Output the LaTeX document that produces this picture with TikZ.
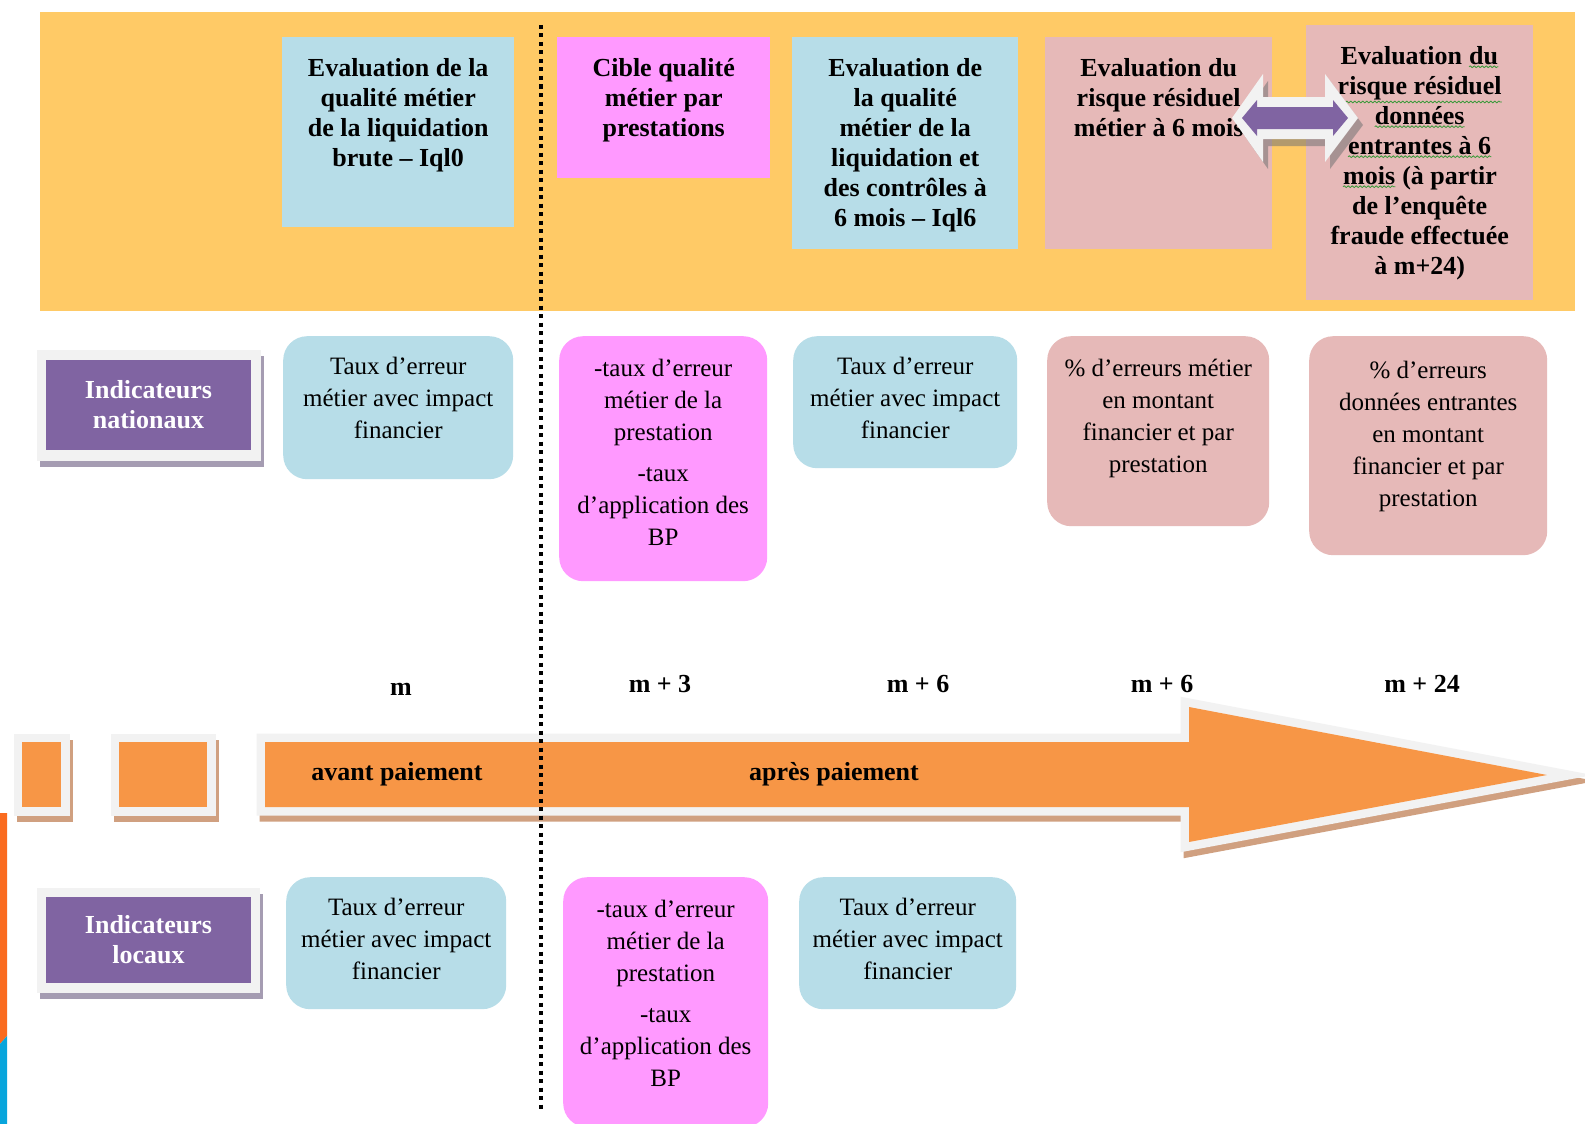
\documentclass[tikz,border=0pt]{standalone}
\usepackage{fontspec}
\setmainfont{Liberation Serif}
\usetikzlibrary{decorations.pathmorphing}
\definecolor{yel}{HTML}{FFCA66}
\definecolor{lblue}{HTML}{B7DDE8}
\definecolor{pinkm}{HTML}{FF99FF}
\definecolor{rose}{HTML}{E6B9B8}
\definecolor{purp}{HTML}{8064A2}
\definecolor{orng}{HTML}{F79646}
\definecolor{frm}{HTML}{F2F2F2}
\definecolor{tanc}{HTML}{D0A080}
\definecolor{pshad}{HTML}{A59CB2}
\definecolor{stripor}{HTML}{FA6B1F}
\definecolor{stripbl}{HTML}{08A5DC}
\definecolor{squigc}{HTML}{3A9A3A}
\newcommand\fsA{\fontsize{26}{30}\selectfont\bfseries}
\newcommand\fsB{\fontsize{25}{32}\selectfont}
\newcommand\fsC{\fontsize{26}{30}\selectfont\bfseries}
\newcommand\squig[1]{\tikz[baseline=(sqw.base)]{\node[inner sep=0pt](sqw){#1};\draw[squigc,line width=0.8pt,decorate,decoration={snake,amplitude=0.9pt,segment length=4pt}]([yshift=-2pt]sqw.south west)--([yshift=-2pt]sqw.south east);}}
\begin{document}
\begin{tikzpicture}[x=1pt,y=-1pt,
  topbox/.style={rectangle,inner sep=0pt,anchor=north west,draw=none},
  rbox/.style={rectangle,rounded corners=24pt,inner sep=0pt,anchor=north west,draw=none},
  ttxt/.style={anchor=north,align=center,inner sep=0pt,font=\fsA},
  rtxt/.style={anchor=north,align=center,inner sep=0pt,font=\fsB},
  lbl/.style={inner sep=0pt,font=\fsC},
  bigarrowpath/.style={insert path={(265,742) -- (1189,742) -- (1189,707) -- (1547,775) -- (1189,842) -- (1189,807) -- (265,807) -- cycle}},
  dblwhite/.style={insert path={(1232,118) -- (1263,74) -- (1263,97) -- (1325,97) -- (1325,74) -- (1358,118) -- (1325,162) -- (1325,139) -- (1263,139) -- (1263,162) -- cycle}},
  dblpurp/.style={insert path={(1242,118) -- (1257,100) -- (1257,107) -- (1333,107) -- (1333,100) -- (1348,118) -- (1333,136) -- (1333,129) -- (1257,129) -- (1257,136) -- cycle}},
  plabel/.style={rectangle,fill=purp,inner sep=0pt,minimum width=205pt,minimum height=90pt,text=white,align=center,font=\fsC}
]
\useasboundingbox (0,0) rectangle (1585,1124);
\fill[white] (0,0) rectangle (1585,1124);

% yellow band
\fill[yel] (40,12) rectangle (1575,311);

% top boxes
\node[topbox,fill=lblue,minimum width=232pt,minimum height=190pt] (t1) at (282,37) {};
\node[topbox,fill=pinkm,minimum width=213pt,minimum height=141pt] (t2) at (557,37) {};
\node[topbox,fill=lblue,minimum width=226pt,minimum height=212pt] (t3) at (792,37) {};
\node[topbox,fill=rose,minimum width=227pt,minimum height=212pt] (t4) at (1045,37) {};
\node[topbox,fill=rose,minimum width=227pt,minimum height=275pt] (t5) at (1306,25) {};

\node[ttxt] (t1x) at ([yshift=-21pt]t1.north) {Evaluation de la\\qualité métier\\de la liquidation\\brute – Iql0};
\node[ttxt] (t2x) at ([yshift=-21pt]t2.north) {Cible qualité\\métier par\\prestations};
\node[ttxt] (t3x) at ([yshift=-21pt]t3.north) {Evaluation de\\la qualité\\métier de la\\liquidation et\\des contrôles à\\6 mois – Iql6};
\node[ttxt] (t4x) at ([yshift=-21pt]t4.north) {Evaluation du\\risque résiduel\\métier à 6 mois};
\node[ttxt] (t5x) at ([yshift=-21pt]t5.north) {Evaluation \squig{du}\\\squig{risque résiduel}\\\squig{données}\\\squig{entrantes à 6}\\\squig{mois} (à partir\\de l’enquête\\fraude effectuée\\à m+24)};

% double arrow
\begin{scope}[shift={(5,7)}]
\path[fill=black!55,opacity=0.55,dblwhite];
\end{scope}
\path[fill=frm,dblwhite];
\path[fill=purp,dblpurp];

% national indicators row
\fill[pshad] (40,356) rectangle (264,467);
\fill[frm] (37,350) rectangle (261,461);
\node[plabel] (nat) at (148.5,405) {Indicateurs\\nationaux};

\node[rbox,fill=lblue,minimum width=230pt,minimum height=143pt] (n1) at (283,336) {};
\node[rbox,fill=pinkm,minimum width=208pt,minimum height=245pt] (n2) at (559,336) {};
\node[rbox,fill=lblue,minimum width=224pt,minimum height=132pt] (n3) at (793,336) {};
\node[rbox,fill=rose,minimum width=222pt,minimum height=190pt] (n4) at (1047,336) {};
\node[rbox,fill=rose,minimum width=238pt,minimum height=219pt] (n5) at (1309,336) {};

\node[rtxt] (n1x) at ([yshift=-21pt]n1.north) {Taux d’erreur\\métier avec impact\\financier};
\node[rtxt] (n2x) at ([yshift=-23pt]n2.north) {-taux d’erreur\\métier de la\\prestation\\[9pt]-taux\\d’application des\\BP};
\node[rtxt] (n3x) at ([yshift=-21pt]n3.north) {Taux d’erreur\\métier avec impact\\financier};
\node[rtxt] (n4x) at ([yshift=-23pt]n4.north) {\% d’erreurs métier\\en montant\\financier et par\\prestation};
\node[rtxt] (n5x) at ([yshift=-25pt]n5.north) {\% d’erreurs\\données entrantes\\en montant\\financier et par\\prestation};

% month labels
\node[lbl] (m0) at (401,689) {m};
\node[lbl] (m3) at (660,684) {m + 3};
\node[lbl] (m6a) at (918,684) {m + 6};
\node[lbl] (m6b) at (1162,684) {m + 6};
\node[lbl] (m24) at (1422,684) {m + 24};

% big timeline arrow
\begin{scope}[shift={(3,6)}]
\path[draw=tanc,fill=tanc,line width=17pt,line join=miter,bigarrowpath];
\path[draw=tanc,fill=tanc,line width=17pt] (22,742) rectangle (61,807);
\path[draw=tanc,fill=tanc,line width=17pt] (119,742) rectangle (207,807);
\end{scope}
\path[draw=frm,line width=17pt,line join=miter,bigarrowpath];
\path[fill=orng,bigarrowpath];
\path[draw=frm,line width=17pt] (22,742) rectangle (61,807);
\path[fill=orng] (22,742) rectangle (61,807);
\path[draw=frm,line width=17pt] (119,742) rectangle (207,807);
\path[fill=orng] (119,742) rectangle (207,807);

\node[lbl] (avp) at (397,774) {avant paiement};
\node[lbl] (app) at (834,774) {après paiement};

% local indicators row
\fill[pshad] (40,894) rectangle (263,999);
\fill[frm] (37,888) rectangle (260,993);
\node[plabel,minimum width=205pt,minimum height=86pt] (loc) at (148.5,940) {Indicateurs\\locaux};

\node[rbox,fill=lblue,minimum width=220pt,minimum height=132pt] (l1) at (286,877) {};
\node[rbox,fill=pinkm,minimum width=205pt,minimum height=250pt] (l2) at (563,877) {};
\node[rbox,fill=lblue,minimum width=217pt,minimum height=132pt] (l3) at (799,877) {};

\node[rtxt] (l1x) at ([yshift=-21pt]l1.north) {Taux d’erreur\\métier avec impact\\financier};
\node[rtxt] (l2x) at ([yshift=-23pt]l2.north) {-taux d’erreur\\métier de la\\prestation\\[9pt]-taux\\d’application des\\BP};
\node[rtxt] (l3x) at ([yshift=-21pt]l3.north) {Taux d’erreur\\métier avec impact\\financier};

% dotted separator
\coordinate (dtop) at (541,25);
\coordinate (dbot) at (541,1112);
\draw[black,line width=4.5pt,dash pattern=on 4pt off 4.5pt] (dtop) -- (dbot);

% left edge strip
\fill[stripor] (0,813) -- (7,813) -- (7,1036) -- (0,1044) -- cycle;
\fill[stripbl] (0,1044) -- (7,1036) -- (7,1124) -- (0,1124) -- cycle;
\end{tikzpicture}
\end{document}
